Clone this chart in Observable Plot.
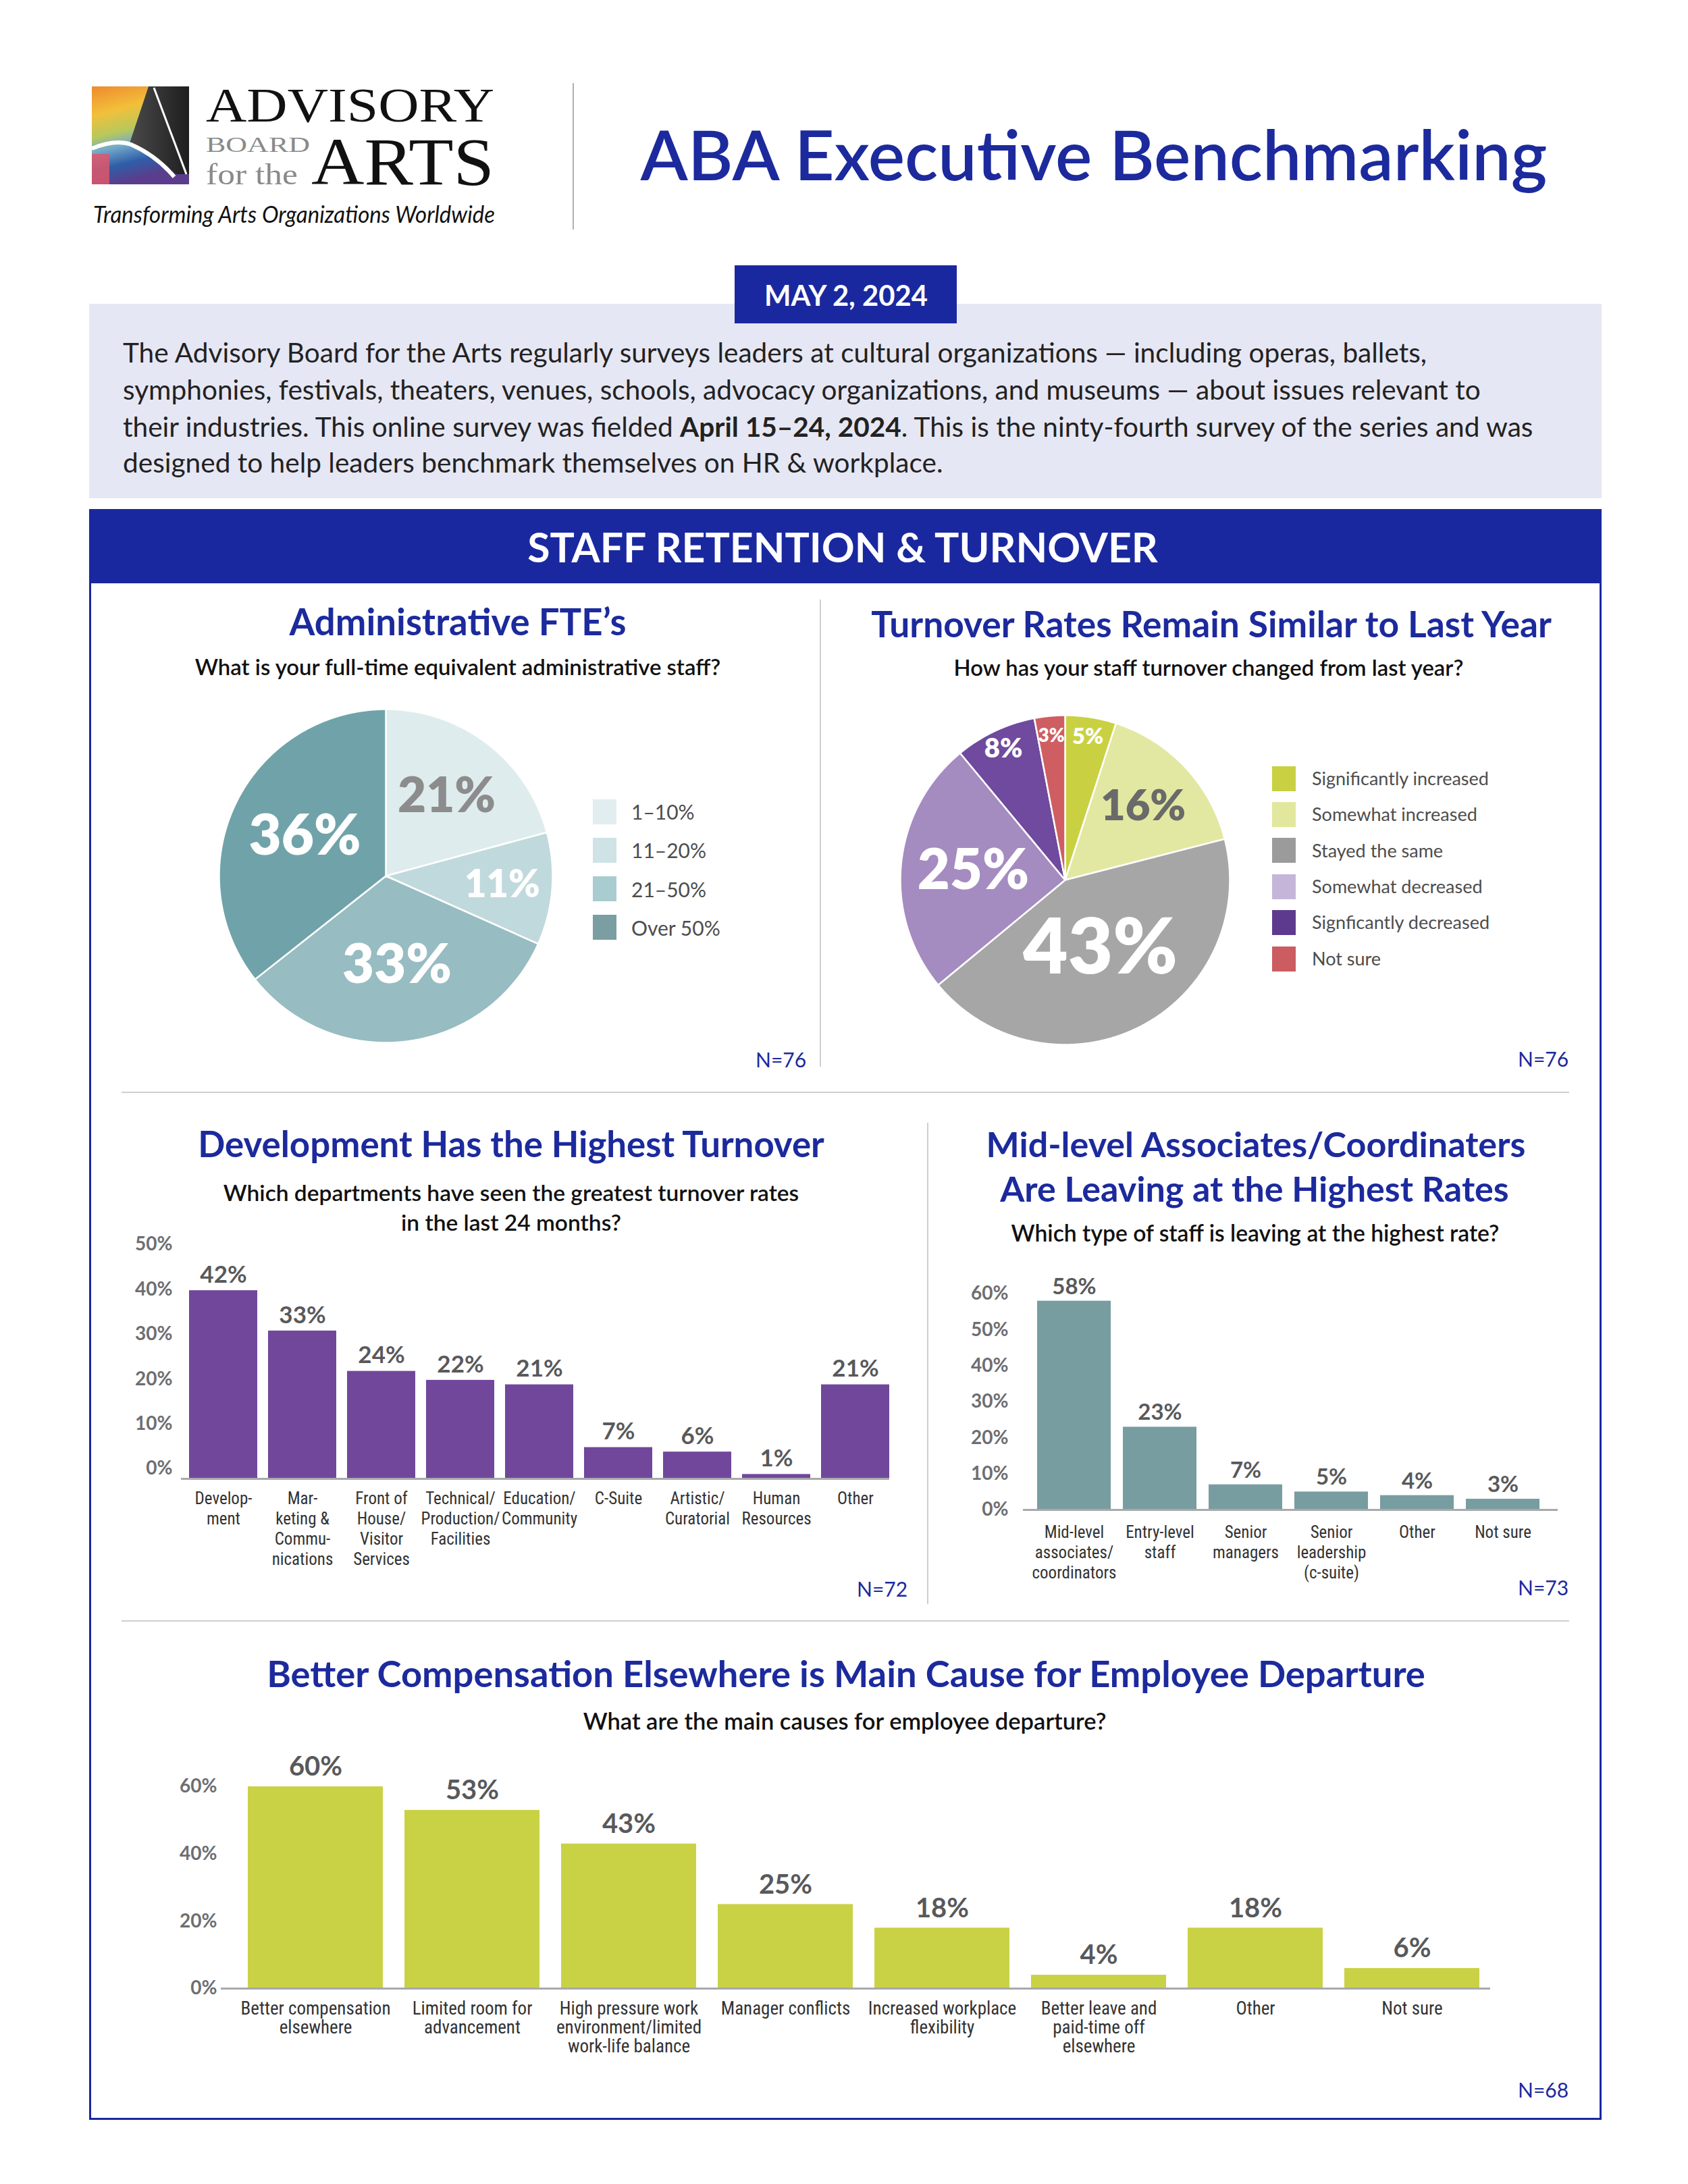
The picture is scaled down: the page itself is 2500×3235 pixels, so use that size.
<!DOCTYPE html>
<html><head><meta charset="utf-8">
<script src="https://cdn.jsdelivr.net/npm/d3@7"></script>
<script src="https://cdn.jsdelivr.net/npm/@observablehq/plot@0.6"></script>
<style>
body{margin:0;background:#fff;}
#page{position:relative;width:2500px;height:3235px;overflow:hidden;font-family:Lato,"Noto Sans",sans-serif;background:#fff;}
.abs{position:absolute;white-space:nowrap;}
.chart{position:absolute;}
.chart svg{max-width:none;overflow:visible;display:block;}
g[aria-label="x-axis tick label"]{font-stretch:condensed;}
</style></head>
<body><div id="page"></div>
<script>
// ---------------- DATA ----------------
const fteLabels = ["1–10%", "11–20%", "21–50%", "Over 50%"];
const fteValues = [21, 11, 33, 36];

const turnoverLabels = ["Significantly increased", "Somewhat increased", "Stayed the same", "Somewhat decreased", "Signficantly decreased", "Not sure"];
const turnoverValues = [5, 16, 43, 25, 8, 3];

const deptLabels = ["Develop-\nment", "Mar-\nketing &\nCommu-\nnications", "Front of\nHouse/\nVisitor\nServices", "Technical/\nProduction/\nFacilities", "Education/\nCommunity", "C-Suite", "Artistic/\nCuratorial", "Human\nResources", "Other"];
const deptValues = [42, 33, 24, 22, 21, 7, 6, 1, 21];
const deptTicks = [0, 10, 20, 30, 40, 50];

const staffLabels = ["Mid-level\nassociates/\ncoordinators", "Entry-level\nstaff", "Senior\nmanagers", "Senior\nleadership\n(c-suite)", "Other", "Not sure"];
const staffValues = [58, 23, 7, 5, 4, 3];
const staffTicks = [0, 10, 20, 30, 40, 50, 60];

const causeLabels = ["Better compensation\nelsewhere", "Limited room for\nadvancement", "High pressure work\nenvironment/limited\nwork-life balance", "Manager conflicts", "Increased workplace\nflexibility", "Better leave and\npaid-time off\nelsewhere", "Other", "Not sure"];
const causeValues = [60, 53, 43, 25, 18, 4, 18, 6];
const causeTicks = [0, 20, 40, 60];

// ---------------- STYLES ----------------
const BLUE = "#1a28a0", TITLE = "#1c2a9d";
const fteColors = ["#dfecee", "#c0d9dc", "#97bcc1", "#6fa3a9"];
const fteSwatch = ["#e1edef", "#cfe2e5", "#a9ccd0", "#7a9ea2"];
const fteText = ["#8c8c8c", "#ffffff", "#ffffff", "#ffffff"];
const turnColors = ["#c9d143", "#e2e8a1", "#a6a6a6", "#a48bc0", "#6f4a9e", "#cf5e62"];
const turnSwatch = ["#c8d142", "#e2e79e", "#9b9b9b", "#c5b6d9", "#5e3a8e", "#cb5c60"];
const turnText = ["#ffffff", "#6a6a6a", "#ffffff", "#ffffff", "#ffffff", "#ffffff"];
const COND = "'Liberation Sans Narrow','Roboto Condensed','DejaVu Sans Condensed','Arial Narrow',sans-serif";

// ---------------- HELPERS ----------------
const page = document.getElementById("page");
function box(x, y, w, h, style) {
  const d = document.createElement("div"); d.className = "abs";
  Object.assign(d.style, {left: x + "px", top: y + "px", width: w + "px", height: h + "px"}, style || {});
  page.appendChild(d); return d;
}
function T(str, o) {
  const d = document.createElement("div"); d.className = "abs";
  d.style.fontFamily = o.family || "Lato,'Noto Sans',sans-serif";
  d.style.fontWeight = o.weight || 400;
  d.style.color = o.color || "#222";
  if (o.italic) d.style.fontStyle = "italic";
  let size = o.size || 40;
  const set = s => { d.style.fontSize = s + "px"; d.style.lineHeight = (s * 1.2) + "px"; };
  set(size);
  if (o.html) d.innerHTML = str; else d.textContent = str;
  page.appendChild(d);
  if (o.fitW) { const w0 = d.getBoundingClientRect().width; size = size * o.fitW / w0; set(size); }
  const w = d.getBoundingClientRect().width;
  d.style.left = ((o.cx !== undefined) ? o.cx - w / 2 : o.x) + "px";
  d.style.top = (o.cy - size * 0.6) + "px";
  return size;
}
function place(svg, left, top) {
  const d = document.createElement("div"); d.className = "chart";
  d.style.left = left + "px"; d.style.top = top + "px";
  d.appendChild(svg); page.appendChild(d);
}

// ---------------- HEADER ----------------
const logo = document.createElement("div");
logo.className = "abs"; logo.style.left = "130px"; logo.style.top = "115px";
logo.innerHTML = `<svg width="720" height="240">
<defs>
<linearGradient id="lg1" x1="0" y1="0" x2="0.25" y2="1">
<stop offset="0" stop-color="#ee8a2e"/><stop offset="0.28" stop-color="#f2c03a"/>
<stop offset="0.5" stop-color="#b8c85c"/><stop offset="0.64" stop-color="#73aacb"/>
<stop offset="0.82" stop-color="#2f5ea8"/><stop offset="1" stop-color="#5a3d8c"/></linearGradient>
<linearGradient id="lg2" x1="0" y1="0" x2="1" y2="0"><stop offset="0" stop-color="#4a4a4a"/><stop offset="1" stop-color="#1e1e1e"/></linearGradient>
</defs>
<g transform="translate(6,13)">
<rect width="144" height="145" fill="url(#lg1)"/>
<rect x="0" y="100" width="26" height="45" fill="#e0566a" opacity="0.85"/>
<path d="M84,0 L144,0 L144,130 L124,130 Q95,100 56,84 Z" fill="url(#lg2)"/>
<path d="M92,2 L140,130" stroke="#fff" stroke-width="3"/>
<path d="M0,92 Q35,78 58,86 Q95,102 122,134" stroke="#fff" stroke-width="6" fill="none"/>
</g>
<g font-family="'Liberation Serif','DejaVu Serif',serif">
<text x="175" y="65" font-size="72" fill="#111" textLength="427" lengthAdjust="spacingAndGlyphs">ADVISORY</text>
<text x="175" y="110" font-size="31" fill="#8a8a8a" textLength="154" lengthAdjust="spacingAndGlyphs">BOARD</text>
<text x="175" y="158" font-size="45" fill="#8a8a8a" textLength="136" lengthAdjust="spacingAndGlyphs">for the</text>
<text x="331" y="158" font-size="100" fill="#111" textLength="271" lengthAdjust="spacingAndGlyphs">ARTS</text>
</g>
<text x="8" y="215" font-family="Lato,sans-serif" font-style="italic" font-size="35" fill="#111" textLength="595" lengthAdjust="spacingAndGlyphs">Transforming Arts Organizations Worldwide</text>
</svg>`;
page.appendChild(logo);
box(848, 123, 2, 217, {background: "#b0b0b0"});

T("ABA Executive Benchmarking", {cx: 1620, cy: 228, size: 100, weight: 600, color: TITLE, fitW: 1343});

box(132, 450, 2240, 288, {background: "#e6e7f4"});
box(1088, 393, 329, 86, {background: BLUE});
T("MAY 2, 2024", {cx: 1253, cy: 437, size: 40, weight: 700, color: "#fff", fitW: 242});

const pSize = T("symphonies, festivals, theaters, venues, schools, advocacy organizations, and museums — about issues relevant to", {x: 182, cy: 577, size: 40, color: "#222", fitW: 2011});
T("The Advisory Board for the Arts regularly surveys leaders at cultural organizations — including operas, ballets,", {x: 182, cy: 522, size: pSize, color: "#222"});
T("their industries. This online survey was fielded <b>April 15–24, 2024</b>. This is the ninty-fourth survey of the series and was", {x: 182, cy: 632, size: pSize, color: "#222", html: true});
T("designed to help leaders benchmark themselves on HR &amp; workplace.", {x: 182, cy: 685, size: pSize, color: "#222", html: true});

// main frame
box(132, 754, 2240, 2386, {border: "3px solid " + BLUE, boxSizing: "border-box"});
box(132, 754, 2240, 110, {background: BLUE});
T("STAFF RETENTION & TURNOVER", {cx: 1248, cy: 810, size: 55, weight: 700, color: "#fff", fitW: 934});

// dividers
box(1214, 888, 2, 692, {background: "#cfcfcf"});
box(180, 1617, 2144, 2, {background: "#cfcfcf"});
box(1373, 1663, 2, 713, {background: "#cfcfcf"});
box(180, 2400, 2144, 2, {background: "#cfcfcf"});

// ---------------- PIES ----------------
function pie(values, colors, textColors, rFrac, sizeOf, r) {
  const W = 500, pad = (W - 2 * r) / 2;
  const arcs = d3.pie().sort(null)(values);
  const pts = [];
  arcs.forEach((a, i) => {
    const n = Math.ceil((a.endAngle - a.startAngle) / 0.004) + 1;
    pts.push({k: i, x: 0, y: 0});
    for (let j = 0; j <= n; j++) {
      const t = a.startAngle + (a.endAngle - a.startAngle) * j / n;
      pts.push({k: i, x: Math.sin(t), y: Math.cos(t)});
    }
  });
  const lbl = arcs.map((a, i) => {
    const m = (a.startAngle + a.endAngle) / 2, f = rFrac(a.value);
    return {x: f * Math.sin(m), y: f * Math.cos(m), t: a.value + "%", c: textColors[i], s: sizeOf(a.value)};
  });
  return Plot.plot({
    width: W, height: W, margin: pad,
    style: {background: "transparent", overflow: "visible"},
    x: {domain: [-1, 1], axis: null}, y: {domain: [-1, 1], axis: null},
    color: {type: "identity"},
    marks: [
      Plot.line(pts, {x: "x", y: "y", z: "k", fill: d => colors[d.k], stroke: "#ffffff", strokeWidth: 2.5, curve: "linear-closed"}),
      Plot.text(lbl, {x: "x", y: "y", text: "t", fill: "c", fontSize: d => d.s, fontWeight: 800, fontFamily: "Lato,sans-serif"})
    ]
  });
}
const rFrac = v => v < 10 ? 0.88 : v <= 25 ? 0.81 - 0.01 * v : v < 40 ? 0.54 : 0.47;
place(pie(fteValues, fteColors, fteText, rFrac, v => v < 15 ? 56 : 58 + 0.7 * v, 247), 571 - 250, 1297 - 250);
place(pie(turnoverValues, turnColors, turnText, rFrac, v => v < 10 ? 20 + 2.5 * v : 12 * Math.pow(v, 0.6), 244), 1577 - 250, 1303 - 250);

// pie titles
T("Administrative FTE’s", {cx: 678, cy: 921, size: 52, weight: 700, color: TITLE, fitW: 499});
T("What is your full-time equivalent administrative staff?", {cx: 678, cy: 988, size: 32, weight: 600, color: "#111", fitW: 779});
T("Turnover Rates Remain Similar to Last Year", {cx: 1794, cy: 923, size: 52, weight: 700, color: TITLE, fitW: 1008});
T("How has your staff turnover changed from last year?", {cx: 1790, cy: 989, size: 32, weight: 600, color: "#111", fitW: 755});

// legends
fteLabels.forEach((l, i) => {
  const cy = 1202 + i * 57.3;
  box(878, cy - 18.5, 35, 37, {background: fteSwatch[i]});
  T(l, {x: 935, cy: cy, size: 30, color: "#4d4d4d"});
});
turnoverLabels.forEach((l, i) => {
  const cy = 1153 + i * 53.4;
  box(1884, cy - 18.5, 35, 37, {background: turnSwatch[i]});
  T(l, {x: 1943, cy: cy, size: 27, color: "#4d4d4d"});
});
T("N=76", {x: 1119, cy: 1569, size: 30, color: TITLE});
T("N=76", {x: 2248, cy: 1568, size: 30, color: TITLE});

// ---------------- BAR CHARTS ----------------
function bars(c) {
  const data = c.labels.map((l, i) => ({label: l, value: c.values[i]}));
  return Plot.plot({
    width: c.width, height: c.height,
    marginLeft: c.ml, marginRight: c.mr, marginTop: c.mt, marginBottom: c.mb,
    style: {background: "transparent", overflow: "visible"},
    x: {type: "band", domain: c.labels, range: c.range, paddingInner: 0.14, paddingOuter: 0, label: null},
    y: {domain: [0, c.yMax], label: null},
    marks: [
      Plot.barY(data, {x: "label", y: "value", fill: c.color}),
      Plot.ruleY([0], {stroke: "#a7a9ac", strokeWidth: 3}),
      Plot.text(data, {x: "label", y: "value", text: d => d.value + "%", dy: -c.valueDy, fontSize: c.valueSize, fontWeight: 700, fill: "#58595b", fontFamily: "Lato,sans-serif"}),
      Plot.axisY({ticks: c.ticks, tickFormat: d => d + "%", tickSize: 0, tickPadding: c.yPad, dy: c.yDy || 0, fontSize: 28, fontWeight: 700, color: "#6d6e71", fontFamily: "Lato,sans-serif", label: null}),
      Plot.axisX({tickSize: 0, tickPadding: c.xPad, fontSize: c.xSize, lineHeight: c.lh, color: "#333", fontFamily: COND, label: null})
    ]
  });
}

T("Development Has the Highest Turnover", {cx: 757, cy: 1694, size: 52, weight: 700, color: TITLE, fitW: 928});
const s3 = T("Which departments have seen the greatest turnover rates", {cx: 757, cy: 1766, size: 32, weight: 600, color: "#111", fitW: 853});
T("in the last 24 months?", {cx: 757, cy: 1810, size: s3, weight: 600, color: "#111"});
place(bars({labels: deptLabels, values: deptValues, ticks: deptTicks, color: "#71479b",
  width: 1170, height: 500, ml: 88, mr: 33, mt: 28, mb: 140, range: [100, 1137], yMax: 50,
  yDy: -15, yPad: 13, valueDy: 23, valueSize: 35, xPad: 16, xSize: 25, lh: 1.2}), 180, 1830);
T("N=72", {x: 1269, cy: 2353, size: 30, color: TITLE});

const s4 = T("Mid-level Associates/Coordinaters", {cx: 1860, cy: 1694, size: 52, weight: 700, color: TITLE, fitW: 799});
T("Are Leaving at the Highest Rates", {cx: 1858, cy: 1760, size: s4, weight: 700, color: TITLE});
T("Which type of staff is leaving at the highest rate?", {cx: 1859, cy: 1826, size: 32, weight: 600, color: "#111", fitW: 723});
place(bars({labels: staffLabels, values: staffValues, ticks: staffTicks, color: "#779da1",
  width: 937, height: 496, ml: 115, mr: 30, mt: 46, mb: 130, range: [135, 882], yMax: 60,
  yPad: 22, valueDy: 21, valueSize: 33, xPad: 20, xSize: 25, lh: 1.2}), 1400, 1870);
T("N=73", {x: 2248, cy: 2351, size: 30, color: TITLE});

T("Better Compensation Elsewhere is Main Cause for Employee Departure", {cx: 1253, cy: 2479, size: 52, weight: 700, color: TITLE, fitW: 1716});
T("What are the main causes for employee departure?", {cx: 1251, cy: 2549, size: 32, weight: 600, color: "#111", fitW: 775});
place(bars({labels: causeLabels, values: causeValues, ticks: causeTicks, color: "#c9d245",
  width: 2047, height: 505, ml: 127, mr: 40, mt: 66, mb: 140, range: [165, 1992], yMax: 60,
  yPad: 6, valueDy: 29, valueSize: 40, xPad: 18, xSize: 27, lh: 1.05}), 200, 2580);
T("N=68", {x: 2248, cy: 3095, size: 30, color: TITLE});
</script>
</body></html>
